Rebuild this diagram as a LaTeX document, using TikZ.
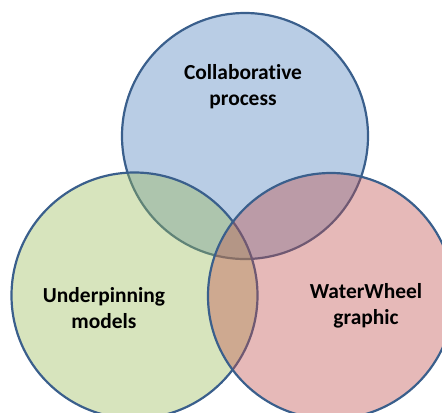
\documentclass[tikz,border=0pt]{standalone}
\usepackage{fontspec}
\setmainfont{Carlito}[Ligatures=NoCommon]
\begin{document}
\begin{tikzpicture}[x=1bp,y=-1bp,
  ring/.style={circle, draw=ringline, line width=2.2bp, minimum size=246bp, inner sep=0pt, fill opacity=0.4},
  caption/.style={align=center, font=\fontsize{21.5}{26}\selectfont\bfseries, text=black}]
  \definecolor{ringline}{HTML}{3A5F8C}
  \definecolor{bluefill}{HTML}{4F81BD}
  \definecolor{greenfill}{HTML}{9BBB59}
  \definecolor{redfill}{HTML}{C0504D}
  \useasboundingbox (0,0) rectangle (442,412);
  \clip (0,0) rectangle (442,412);
  % the three overlapping sets
  \node[ring, fill=bluefill]  (process) at (245,136) {};
  \node[ring, fill=greenfill] (models)  at (134.5,295.5) {};
  \node[ring, fill=redfill]   (graphic) at (331,296) {};
  % set labels
  \node[caption] (ptext) at (243,87)  {Collaborative\\process};
  \node[caption] (mtext) at (104,308) {Underpinning\\models};
  \node[caption] (gtext) at (366,306) {WaterWheel\\graphic};
\end{tikzpicture}
\end{document}
